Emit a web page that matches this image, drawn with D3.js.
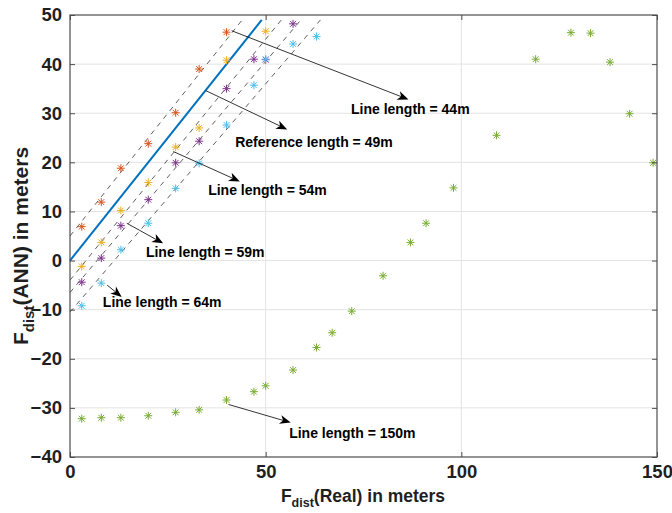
<!DOCTYPE html>
<html><head><meta charset="utf-8">
<script src="https://cdn.jsdelivr.net/npm/d3@7"></script>
<style>
body{margin:0;background:#fff;}
text{font-family:"Liberation Sans",Arial,sans-serif;font-weight:bold;}
</style></head>
<body>
<svg id="chart" width="672" height="513"></svg>
<script>
// ---- data ----
const xTicks = [0, 50, 100, 150];
const yTicks = [-40, -30, -20, -10, 0, 10, 20, 30, 40, 50];

const len44X = [3, 8, 13, 20, 27, 33, 40];
const len44Y = [6.9, 11.9, 18.8, 23.8, 30.1, 39.0, 46.5];

const len54X = [3, 8, 13, 20, 27, 33, 40, 50];
const len54Y = [-1.2, 3.7, 10.2, 15.9, 23.1, 27.0, 40.8, 46.7];

const len59X = [3, 8, 13, 20, 27, 33, 40, 47, 50, 57];
const len59Y = [-4.4, 0.5, 7.1, 12.4, 19.9, 24.3, 35.0, 41.0, 40.9, 48.2];

const len64X = [3, 8, 13, 20, 27, 33, 40, 47, 50, 57, 63];
const len64Y = [-9.2, -4.6, 2.2, 7.6, 14.7, 19.8, 27.6, 35.7, 41.0, 44.1, 45.6];

const len150X = [3, 8, 13, 20, 27, 33, 40, 47, 50, 57, 63, 67, 72, 80, 87, 91, 98, 109, 119, 128, 133, 138, 143, 149];
const len150Y = [-32.2, -32.0, -32.0, -31.6, -30.9, -30.4, -28.4, -26.7, -25.5, -22.3, -17.7, -14.7, -10.3, -3.1, 3.7, 7.6, 14.8, 25.5, 41.0, 46.4, 46.3, 40.4, 29.9, 19.9];

// reference line y = x and dashed guide lines (start y at x=0, end x at y=49)
const refLine = [[0, 0], [49, 49]];
const dashStartY = [5, -4, -6.5, -10.5];
const dashEndX = [44, 54, 59, 64];
const dashEndY = 49;

// annotations: text, arrow start, arrow tip, text anchor (data units)
const annoText = ["Line length = 44m", "Reference length = 49m", "Line length = 54m", "Line length = 59m", "Line length = 64m", "Line length = 150m"];
const annoStart = [[41.3, 46.8], [34.7, 34.6], [26.4, 22.2], [14.5, 7.6], [9.5, -5.0], [40.5, -29.3]];
const annoTip = [[86.5, 32.8], [55.5, 26.7], [43.4, 16.1], [23.8, 3.5], [13.2, -7.4], [56.4, -33.0]];
const annoPos = [[71.8, 30.8], [42.2, 24.2], [35.3, 14.4], [19.4, 1.8], [8.4, -8.4], [56.0, -35.2]];

// ---- chart ----
const svg = d3.select("#chart");
const L = 70, R = 657, T = 15, B = 457;
const x = d3.scaleLinear().domain([0, 150]).range([L, R]);
const y = d3.scaleLinear().domain([-40, 50]).range([B, T]);

const axisColor = "#4d4d4d";
const grid = svg.append("g");
grid.selectAll("line.h").data(yTicks.slice(1, -1)).join("line")
  .attr("x1", L).attr("x2", R).attr("y1", d => y(d)).attr("y2", d => y(d))
  .attr("stroke", "#e3e3e3").attr("stroke-width", 1);
grid.selectAll("line.v").data(xTicks.slice(1, -1)).join("line")
  .attr("y1", T).attr("y2", B).attr("x1", d => x(d)).attr("x2", d => x(d))
  .attr("stroke", "#e3e3e3").attr("stroke-width", 1);

// dashed lines
svg.append("g").selectAll("line").data(dashStartY).join("line")
  .attr("x1", x(0)).attr("y1", c => y(c))
  .attr("x2", (c, i) => x(dashEndX[i])).attr("y2", y(dashEndY))
  .attr("stroke", "#1a1a1a").attr("stroke-width", 0.7)
  .attr("stroke-dasharray", "5,5");

// reference line
svg.append("line")
  .attr("x1", x(refLine[0][0])).attr("y1", y(refLine[0][1]))
  .attr("x2", x(refLine[1][0])).attr("y2", y(refLine[1][1]))
  .attr("stroke", "#0072BD").attr("stroke-width", 2);

// series markers
const series = [
  {xs: len44X, ys: len44Y, color: "#D95319"},
  {xs: len54X, ys: len54Y, color: "#EDB120"},
  {xs: len59X, ys: len59Y, color: "#7E2F8E"},
  {xs: len64X, ys: len64Y, color: "#4DBEEE"},
  {xs: len150X, ys: len150Y, color: "#77AC30"}
];
const r = 4, dd = 2.9;
const star = `M${-r},0L${r},0M0,${-r}L0,${r}M${-dd},${-dd}L${dd},${dd}M${-dd},${dd}L${dd},${-dd}`;
series.forEach(s => {
  svg.append("g").selectAll("path").data(s.xs.map((v, i) => [v, s.ys[i]])).join("path")
    .attr("d", star)
    .attr("transform", d => `translate(${x(d[0])},${y(d[1])})`)
    .attr("fill", "none").attr("stroke", s.color).attr("stroke-width", 1);
});

// frame + axes
svg.append("rect").attr("x", L).attr("y", T).attr("width", R - L).attr("height", B - T)
  .attr("fill", "none").attr("stroke", axisColor).attr("stroke-width", 1.2);

function styleAxis(g, showLabels) {
  g.select(".domain").remove();
  g.selectAll(".tick line").attr("stroke", axisColor).attr("stroke-width", 1);
  g.selectAll(".tick text").attr("fill", "#1f1f1f").style("font-size", "18.5px")
    .style("font-family", "'Liberation Sans', Arial, sans-serif").style("font-weight", "bold");
  if (!showLabels) g.selectAll(".tick text").remove();
}
svg.append("g").attr("transform", `translate(0,${B})`)
  .call(d3.axisBottom(x).tickValues(xTicks).tickSizeInner(-5).tickSizeOuter(0).tickPadding(8))
  .call(g => styleAxis(g, true));
svg.append("g").attr("transform", `translate(0,${T})`)
  .call(d3.axisTop(x).tickValues(xTicks).tickSizeInner(-5).tickSizeOuter(0))
  .call(g => styleAxis(g, false));
svg.append("g").attr("transform", `translate(${L},0)`)
  .call(d3.axisLeft(y).tickValues(yTicks).tickSizeInner(-5).tickSizeOuter(0).tickPadding(8))
  .call(g => styleAxis(g, true));
svg.append("g").attr("transform", `translate(${R},0)`)
  .call(d3.axisRight(y).tickValues(yTicks).tickSizeInner(-5).tickSizeOuter(0))
  .call(g => styleAxis(g, false));

// annotations
const ann = svg.append("g");
annoText.forEach((t, i) => {
  const x1 = x(annoStart[i][0]), y1 = y(annoStart[i][1]);
  const x2 = x(annoTip[i][0]), y2 = y(annoTip[i][1]);
  const ang = Math.atan2(y2 - y1, x2 - x1) * 180 / Math.PI;
  const HL = 11, HW = 4.5;
  ann.append("line").attr("x1", x1).attr("y1", y1)
    .attr("x2", x2 - HL * 0.7 * Math.cos(ang * Math.PI / 180))
    .attr("y2", y2 - HL * 0.7 * Math.sin(ang * Math.PI / 180))
    .attr("stroke", "#000").attr("stroke-width", 0.8);
  ann.append("path")
    .attr("d", `M0,0L${-HL},${-HW}L${-HL * 0.72},0L${-HL},${HW}Z`)
    .attr("transform", `translate(${x2},${y2}) rotate(${ang})`)
    .attr("fill", "#000");
  ann.append("text").attr("x", x(annoPos[i][0])).attr("y", y(annoPos[i][1]))
    .attr("dy", "0.35em").style("font-size", "14px").attr("fill", "#000").text(t);
});

// axis labels
const xl = svg.append("text").attr("x", 363).attr("y", 502).attr("text-anchor", "middle")
  .style("font-size", "17.5px").attr("fill", "#1f1f1f");
xl.append("tspan").text("F");
xl.append("tspan").attr("dy", 5).style("font-size", "12.5px").text("dist");
xl.append("tspan").attr("dy", -5).text("(Real) in meters");

const yl = svg.append("text").attr("transform", `translate(28,${(T + B) / 2 + 10}) rotate(-90)`)
  .attr("text-anchor", "middle").style("font-size", "21px").attr("fill", "#1f1f1f");
yl.append("tspan").text("F");
yl.append("tspan").attr("dy", 6).style("font-size", "15px").text("dist");
yl.append("tspan").attr("dy", -6).text("(ANN) in meters");
</script>
</body></html>
